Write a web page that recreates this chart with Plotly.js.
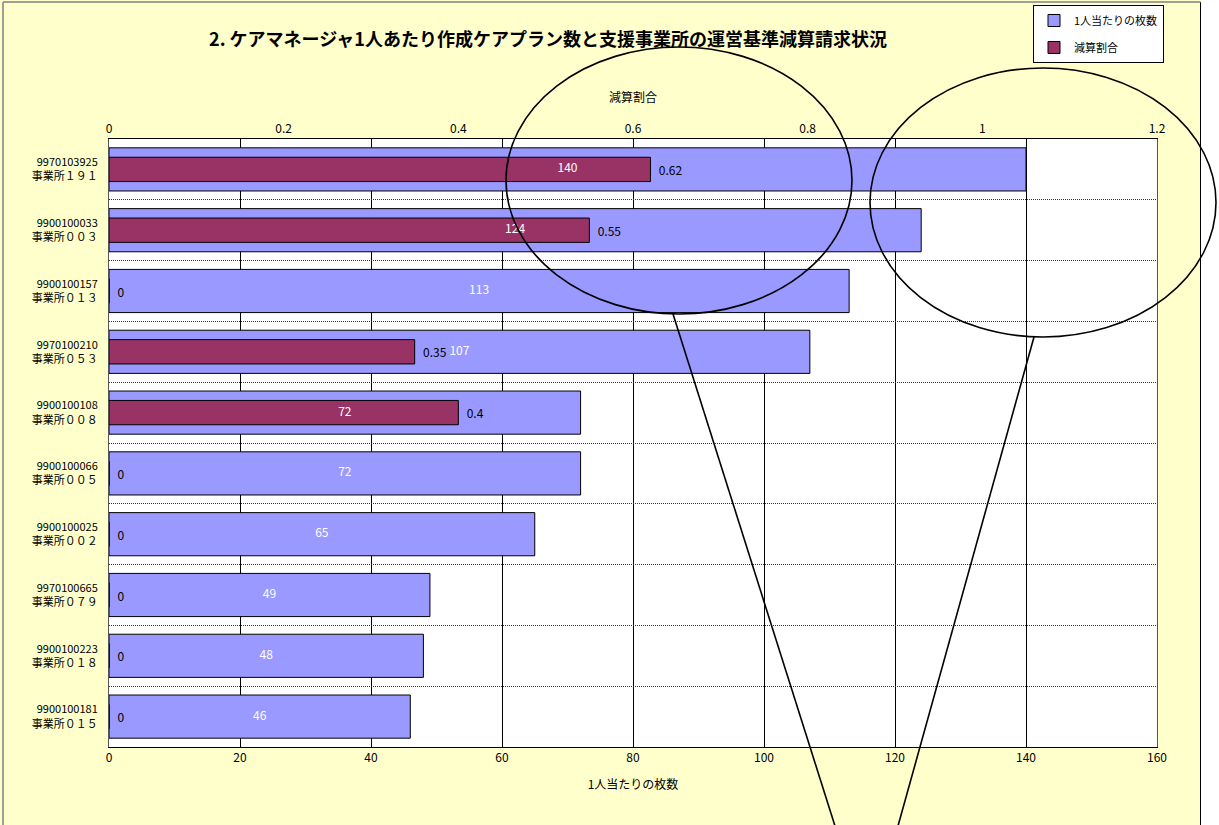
<!DOCTYPE html>
<html>
<head>
<meta charset="utf-8">
<script src="https://cdn.plot.ly/plotly-3.0.1.min.js"></script>
<style>
html,body{margin:0;padding:0;background:#ffffff;}
#chart{width:1219px;height:825px;}
</style>
</head>
<body>
<div id="chart"></div>
<script>
// ---- data ----
const codes = ["9970103925","9900100033","9900100157","9970100210","9900100108","9900100066","9900100025","9970100665","9900100223","9900100181"];
const offices = ["事業所１９１","事業所００３","事業所０１３","事業所０５３","事業所００８","事業所００５","事業所００２","事業所０７９","事業所０１８","事業所０１５"];
const platesPerPerson = [140,124,113,107,72,72,65,49,48,46];   // 1人当たりの枚数
const reductionRate   = [0.62,0.55,0,0.35,0.4,0,0,0,0,0];      // 減算割合
const seriesNames = ["1人当たりの枚数","減算割合"];
const chartTitle = "2. ケアマネージャ1人あたり作成ケアプラン数と支援事業所の運営基準減算請求状況";

const categories = codes.map((c,i)=>c+"<br>"+offices[i]);
const FONT = "Noto Sans CJK JP, Noto Sans, sans-serif";

// plot area in pixels (for converting decorative drawing positions)
const PL=109, PR=1157, PT=139, PB=747;
const px = x => (x-PL)/(PR-PL);
const py = y => (PB-y)/(PB-PT);

const traces = [
  {
    type:'bar', orientation:'h', name:seriesNames[0], legendgroup:'a',
    y:categories, x:platesPerPerson, xaxis:'x', yaxis:'y',
    width:0.71,
    marker:{color:'#9999FF', line:{color:'#000000', width:1}},
    textposition:'none', hoverinfo:'x+y'
  },
  {
    type:'bar', orientation:'h', name:seriesNames[1], legendgroup:'b',
    y:categories, x:reductionRate, xaxis:'x2', yaxis:'y',
    width:0.4,
    marker:{color:'#993366', line:{color:'#000000', width:1}},
    text:reductionRate.map(String), texttemplate:'\u00a0\u00a0%{text}',
    textposition:'outside', cliponaxis:false,
    textfont:{family:FONT, size:12, color:'#000000'}
  },
  {
    type:'scatter', mode:'text', showlegend:false,
    y:categories, x:platesPerPerson.map(v=>v/2), xaxis:'x3', yaxis:'y',
    text:platesPerPerson.map(String),
    textfont:{family:FONT, size:12, color:'#ffffff'}, hoverinfo:'skip'
  }
];

const shapes = [
  // white strip right of chart border
  {type:'rect', xref:'paper', yref:'paper', x0:px(1201), x1:px(1225), y0:py(830), y1:py(-5),
   fillcolor:'#ffffff', line:{width:0}, layer:'above'},
  // chart border
  {type:'line', xref:'paper', yref:'paper', x0:px(1200.5), x1:px(1200.5), y0:py(830), y1:py(2), line:{color:'#000000', width:1}, layer:'above'},
  {type:'line', xref:'paper', yref:'paper', x0:px(3), x1:px(3), y0:py(830), y1:py(2), line:{color:'#808080', width:1.5}, layer:'above'},
  {type:'line', xref:'paper', yref:'paper', x0:px(3), x1:px(1200.5), y0:py(2), y1:py(2), line:{color:'#808080', width:1.5}, layer:'above'},
  // hand-drawn ellipses and pointer lines
  {type:'circle', xref:'paper', yref:'paper', x0:px(506), x1:px(852), y0:py(314), y1:py(47), line:{color:'#000000', width:1.6}, layer:'above'},
  {type:'circle', xref:'paper', yref:'paper', x0:px(870), x1:px(1216), y0:py(337), y1:py(68), line:{color:'#000000', width:1.6}, layer:'above'},
  {type:'line', xref:'paper', yref:'paper', x0:px(673), y0:py(314), x1:px(835), y1:py(826), line:{color:'#000000', width:1.6}, layer:'above'},
  {type:'line', xref:'paper', yref:'paper', x0:px(1034), y0:py(337), x1:px(898), y1:py(826), line:{color:'#000000', width:1.6}, layer:'above'}
];

const layout = {
  width:1219, height:825,
  margin:{l:PL, r:1219-PR, t:PT, b:825-PB, pad:0, autoexpand:false},
  paper_bgcolor:'#FFFFCC', plot_bgcolor:'#ffffff',
  font:{family:FONT, size:12, color:'#000000'},
  title:{text:chartTitle, font:{family:FONT, size:18, color:'#000000', weight:'bold'},
         xref:'container', yref:'container', x:548/1219, y:1-40/825, xanchor:'center', yanchor:'middle'},
  showlegend:true,
  legend:{xref:'container', yref:'container', x:1033/1219, y:1-5/825, xanchor:'left', yanchor:'top',
          bgcolor:'#ffffff', bordercolor:'#000000', borderwidth:1, tracegroupgap:8,
          entrywidth:112, itemwidth:30,
          font:{family:FONT, size:11, color:'#000000'}},
  xaxis:{range:[0,160], dtick:20, tick0:0, showgrid:true, gridcolor:'#000000', gridwidth:1,
         zeroline:false, showline:true, linecolor:'#000000', linewidth:1, ticks:'',
         tickfont:{size:12}, title:{text:"1人当たりの枚数", font:{size:12}, standoff:16}},
  xaxis2:{range:[0,1.2], dtick:0.2, tick0:0, overlaying:'x', side:'top', showgrid:false,
          zeroline:false, showline:true, linecolor:'#000000', linewidth:1, ticks:'',
          tickfont:{size:12}, title:{text:"減算割合", font:{size:12}, standoff:14}},
  xaxis3:{range:[0,160], overlaying:'x', visible:false},
  yaxis:{type:'category', autorange:'reversed', tickson:'boundaries', showgrid:true,
         gridcolor:'#333333', gridwidth:1, griddash:'1px,1px', showline:true, mirror:true,
         linecolor:'#555555', linewidth:1, ticks:'', ticklabelstandoff:8,
         tickfont:{size:11}, zeroline:false},
  shapes:shapes
};

Plotly.newPlot('chart', traces, layout, {displayModeBar:false, staticPlot:true});
</script>
</body>
</html>
